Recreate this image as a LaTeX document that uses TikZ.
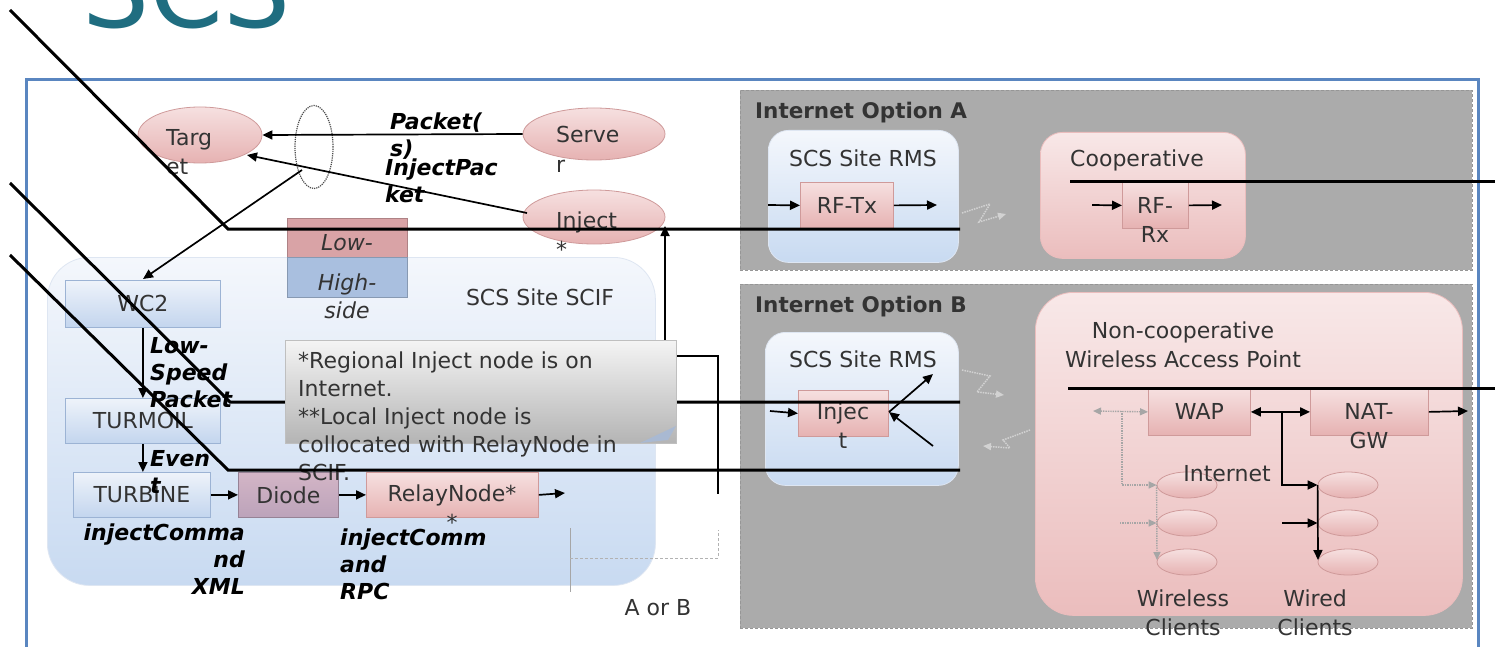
\documentclass[tikz,border=0pt]{standalone}
\usepackage{fontspec}
\setmainfont{DejaVu Sans}
\usetikzlibrary{arrows.meta,shapes.geometric}
\definecolor{titlecol}{HTML}{1F6D80}
\definecolor{frameblue}{HTML}{5A86C0}
\definecolor{graybg}{HTML}{ABABAB}
\definecolor{grayedge}{HTML}{969696}
\definecolor{pinkA}{HTML}{F6E0E0}
\definecolor{pinkB}{HTML}{E6B2B2}
\definecolor{pinkedge}{HTML}{CF9A9A}
\definecolor{blueA}{HTML}{EEF3FA}
\definecolor{blueB}{HTML}{C3D5EE}
\definecolor{blueedge}{HTML}{9CB3D4}
\definecolor{contA}{HTML}{F4F7FC}
\definecolor{contB}{HTML}{C8DAF1}
\definecolor{cpinkA}{HTML}{F8E8E8}
\definecolor{cpinkB}{HTML}{EBBDBD}
\definecolor{diodeA}{HTML}{D3B5C6}
\definecolor{diodeB}{HTML}{BCA3BA}
\definecolor{lowcol}{HTML}{D9A3A6}
\definecolor{highcol}{HTML}{A9BFDF}
\definecolor{noteA}{HTML}{F4F4F4}
\definecolor{noteB}{HTML}{B4B4B4}
\definecolor{foldcol}{HTML}{A9B9D2}
\definecolor{txtcol}{HTML}{333333}
\definecolor{zzcol}{HTML}{D2D2D2}
\newcommand\fsN{\fontsize{22}{29}\selectfont}
\newcommand\fsNote{\fontsize{22}{28}\selectfont}
\newcommand\fsB{\fontsize{22}{27}\selectfont\bfseries\itshape}
\newcommand\fsT{\fontsize{21.5}{24}\selectfont\bfseries}
\tikzset{
  txt/.style={font=\fsN, text=txtcol, inner sep=0pt},
  btxt/.style={font=\fsB, text=black, inner sep=0pt},
  pinkbox/.style={draw=pinkedge, line width=0.8pt, top color=pinkA, bottom color=pinkB, inner sep=0pt, anchor=north west},
  bluebox/.style={draw=blueedge, line width=0.8pt, top color=blueA, bottom color=blueB, inner sep=0pt, anchor=north west},
  pinkell/.style={ellipse, draw=pinkedge, line width=0.8pt, top color=pinkA, bottom color=pinkB, inner sep=0pt},
  bluecont/.style={draw=blueA!80!blueedge, line width=0.8pt, top color=contA, bottom color=contB, inner sep=0pt, anchor=north west},
  pinkcont/.style={draw=cpinkB, line width=0.8pt, top color=cpinkA, bottom color=cpinkB, inner sep=0pt, anchor=north west},
  graycont/.style={draw=grayedge, densely dashed, line width=0.8pt, fill=graybg, inner sep=0pt, anchor=north west},
  arr/.style={line width=1.7pt, -{Triangle[length=10pt,width=9pt]}},
  darr/.style={line width=1.7pt, {Triangle[length=10pt,width=9pt]}-{Triangle[length=10pt,width=9pt]}},
  bline/.style={line width=3pt, black},
  gd/.style={draw=gray!70, densely dotted, line width=1.4pt},
  gdarr/.style={gd, -{Triangle[length=8pt,width=7pt]}},
  zz/.style={draw=zzcol, densely dotted, line width=1.5pt, -{Triangle[length=8pt,width=7pt]}},
}
\begin{document}
\begin{tikzpicture}[x=1pt,y=-1pt]
\useasboundingbox (0,0) rectangle (1495,647);
\fill[white] (0,0) rectangle (1495,647);
% title
\node[anchor=base west, inner sep=0pt, font=\fontsize{106}{106}\selectfont, text=titlecol] (title) at (82,28) {SCS};
% outer frame
\node[draw=frameblue, line width=3pt, fill=white, anchor=north west, minimum width=1452, minimum height=640, inner sep=0pt] (frame) at (25,78) {};
% gray option boxes
\node[graycont, minimum width=732, minimum height=180] (optA) at (740,90) {};
\node[graycont, minimum width=732, minimum height=344] (optB) at (740,284) {};
\node[anchor=base west, font=\fsT, text=txtcol, inner sep=0pt] (optAlbl) at (755,119) {Internet Option A};
\node[anchor=base west, font=\fsT, text=txtcol, inner sep=0pt] (optBlbl) at (755,312) {Internet Option B};
% containers
\node[bluecont, rounded corners=42pt, minimum width=608, minimum height=328] (scif) at (47,257) {};
\node[bluecont, rounded corners=20pt, minimum width=190, minimum height=132] (rmsA) at (768,130) {};
\node[pinkcont, rounded corners=22pt, minimum width=205, minimum height=126] (coop) at (1040,132) {};
\node[bluecont, rounded corners=20pt, minimum width=193, minimum height=153] (rmsB) at (765,332) {};
\node[pinkcont, rounded corners=38pt, minimum width=427, minimum height=323] (noncoop) at (1035,292) {};
\node[txt, anchor=base] (scifT) at (540,305) {SCS Site SCIF};
\node[txt, anchor=base] (rmsAT) at (863,167) {SCS Site RMS};
\node[txt, anchor=base] (coopT) at (1137,167) {Cooperative};
\node[txt, anchor=base] (rmsBT) at (863,367) {SCS Site RMS};
\node[txt, anchor=base, align=center] (noncoopT) at (1183,367) {Non-cooperative\\Wireless Access Point};
% ellipses top-left
\node[pinkell, minimum width=124, minimum height=56] (target) at (200,135) {};
\node[txt, anchor=base west, align=left] (targetT) at (166,175) {Targ\\et};
\node[pinkell, minimum width=142, minimum height=52] (server) at (594,134) {};
\node[txt, anchor=base west, align=left] (serverT) at (556,172) {Serve\\r};
\node[pinkell, minimum width=142, minimum height=54] (inject) at (594,217) {};
\node[txt, anchor=base west, align=left] (injectT) at (556,257) {Inject\\*};
\node[ellipse, draw=black!70, densely dotted, line width=1.2pt, minimum width=38, minimum height=83, inner sep=0pt] (dotell) at (314,147) {};
% labels
\node[btxt, anchor=base west, align=left] (pktlbl) at (390,157) {Packet(\\s)};
\node[btxt, anchor=base west, align=left] (injpktlbl) at (385,202) {InjectPac\\ket};
% arrows top-left
\draw[arr] (server.west) -- (target.east);
\coordinate (injL) at (527,213);
\coordinate (tgtR) at (247,155);
\draw[arr] (injL) -- (tgtR);
\coordinate (dotB) at (302,170);
\coordinate (wc2T) at (143,279);
\draw[arr] (dotB) -- (wc2T);
% legend
\node[draw=lowcol!80!black, fill=lowcol, anchor=north west, minimum width=120, minimum height=39, inner sep=0pt] (low) at (287,218) {};
\node[draw=highcol!80!black, fill=highcol, anchor=north west, minimum width=120, minimum height=40, inner sep=0pt] (high) at (287,257) {};
\node[txt, anchor=base, font=\fsN\itshape] (lowT) at (347,250) {Low-};
\node[txt, anchor=base, align=center, font=\fontsize{22}{28}\selectfont\itshape] (highT) at (347,318) {High-\\side};
% SCIF boxes
\node[bluebox, minimum width=155, minimum height=47] (wc2) at (65,280) {};
\node[txt] at (wc2.center) {WC2};
\node[bluebox, minimum width=155, minimum height=45] (turmoil) at (65,398) {};
\node[txt] at (turmoil.center) {TURMOIL};
\node[bluebox, minimum width=137, minimum height=45] (turbine) at (73,472) {};
\node[txt] at (turbine.center) {TURBINE};
\node[draw=diodeB!80!black, line width=0.8pt, top color=diodeA, bottom color=diodeB, anchor=north west, minimum width=100, minimum height=45, inner sep=0pt] (diode) at (238,472) {};
\node[txt] at (diode.center) {Diode};
\node[pinkbox, minimum width=172, minimum height=45] (relay) at (366,472) {};
\node[txt, anchor=base, align=center] (relayT) at (452,530) {RelayNode*\\*};
\coordinate (relayOut) at (565,493);
\draw[arr] (wc2.south) -- (turmoil.north);
\draw[arr] (turmoil.south) -- (turbine.north -| turmoil.south);
\draw[arr] (turbine.east) -- (diode.west);
\draw[arr] (diode.east) -- (relay.west);
\draw[arr] (relay.east) -- (relayOut);
\node[btxt, anchor=base west, align=left] (lsp) at (150,407) {Low-\\Speed\\Packet};
\node[btxt, anchor=base west, align=left] (evt) at (150,493) {Even\\t};
\node[btxt, anchor=base east, align=right] (icx) at (245,594) {injectComma\\nd\\XML};
\node[btxt, anchor=base west, align=left] (icr) at (340,599) {injectComm\\and\\RPC};
% Option A contents
\node[pinkbox, minimum width=93, minimum height=46] (rftx) at (800,182) {};
\node[txt] at (rftx.center) {RF-Tx};
\coordinate (rftxIn) at (768,205);
\coordinate (rftxOut) at (937,205);
\draw[arr] (rftxIn) -- (rftx.west);
\draw[arr] (rftx.east) -- (rftxOut);
\node[pinkbox, minimum width=66, minimum height=46] (rfrx) at (1122,182) {};
\node[txt, anchor=base, align=center] (rfrxT) at (1155,242) {RF-\\Rx};
\coordinate (rfrxIn) at (1092,205);
\coordinate (rfrxOut) at (1222,205);
\draw[arr] (rfrxIn) -- (rfrx.west);
\draw[arr] (rfrx.east) -- (rfrxOut);
\coordinate (zA1) at (962,213);
\coordinate (zA2) at (1006,214);
\draw[zz] (zA1) -- (990,204) -- (979,222) -- (zA2);
% Option B contents
\node[pinkbox, minimum width=90, minimum height=46] (injbox) at (798,390) {};
\node[txt, anchor=base, align=center] (injboxT) at (843,448) {Injec\\t};
\coordinate (injIn) at (770,411);
\draw[arr] (injIn) -- (injbox.west);
\coordinate (injUp) at (933,374);
\coordinate (injDn) at (933,446);
\coordinate (injR) at (889,412);
\draw[arr] (injR) -- (injUp);
\draw[arr] (injDn) -- (injR);
\coordinate (zB1) at (962,370);
\coordinate (zB2) at (1004,395);
\draw[zz] (zB1) -- (990,376) -- (977,392) -- (zB2);
\coordinate (zC1) at (1030,430);
\coordinate (zC2) at (983,446);
\draw[zz] (zC1) -- (1003,440) -- (1010,448) -- (zC2);
\node[pinkbox, minimum width=102, minimum height=47] (wap) at (1148,388) {};
\node[txt] at (wap.center) {WAP};
\node[pinkbox, minimum width=118, minimum height=47] (nat) at (1310,388) {};
\node[txt, anchor=base, align=center] (natT) at (1369,448) {NAT-\\GW};
\draw[darr] (wap.east) -- (nat.west);
\coordinate (natOut) at (1468,411);
\draw[arr] (nat.east) -- (natOut);
\coordinate (wapL) at (1093,411);
\draw[gd, {Triangle[length=8pt,width=7pt]}-{Triangle[length=8pt,width=7pt]}] (wapL) -- (wap.west);
\foreach \i/\y in {1/485,2/523,3/562}{
  \node[pinkell, minimum width=60, minimum height=26] (wl\i) at (1187,\y) {};
  \node[pinkell, minimum width=60, minimum height=26] (wd\i) at (1348,\y) {};
}
\node[txt, anchor=base] (inetT) at (1227,481) {Internet};
\coordinate (g1) at (1122,411);
\draw[gdarr] (g1) -- (1122,485) -- (wl1.west);
\coordinate (g3) at (1157,560);
\draw[gdarr] (wl1.west) -- (g3);
\coordinate (g2) at (1120,523);
\draw[gdarr] (g2) -- (wl2.west);
\coordinate (k1) at (1282,411);
\draw[arr] (k1) -- (1282,485) -- (wd1.west);
\coordinate (k3) at (1318,560);
\draw[arr] (wd1.west) -- (k3);
\coordinate (k2) at (1282,523);
\draw[arr] (k2) -- (wd2.west);
\node[txt, anchor=base, align=center] (wlT) at (1183,635) {Wireless\\Clients};
\node[txt, anchor=base, align=center] (wdT) at (1315,635) {Wired\\Clients};
% long overlay lines
\coordinate (l1a) at (10,10);
\coordinate (l1b) at (228,229);
\coordinate (l1c) at (960,229);
\draw[bline] (l1a) -- (l1b) -- (l1c);
\coordinate (l2a) at (10,183);
\coordinate (l2b) at (230,402);
\coordinate (l2c) at (960,402);
\draw[bline] (l2a) -- (l2b) -- (l2c);
\coordinate (lAa) at (1070,182);
\coordinate (lAb) at (1495,182);
\draw[bline] (lAa) -- (lAb);
\coordinate (lBa) at (1068,388);
\coordinate (lBb) at (1495,388);
\draw[bline] (lBa) -- (lBb);
% inject up line and right bracket
\coordinate (noteTop) at (665,340);
\coordinate (injBR) at (665,226);
\draw[arr] (noteTop) -- (injBR);
\coordinate (nr1) at (676,356);
\coordinate (nr2) at (718,356);
\coordinate (nr3) at (718,494);
\draw[line width=1.5pt] (nr1) -- (nr2) -- (nr3);
% note box
\node[draw=black!25, line width=0.8pt, top color=noteA, bottom color=noteB, anchor=north west, minimum width=391, minimum height=103, inner sep=0pt] (note) at (285,340) {};
\fill[foldcol] (640,443) -- (676,426) -- (668,440) -- cycle;
\node[txt, anchor=base west, align=left, font=\fsNote] (noteT) at (298,480) {*Regional Inject node is on\\Internet.\\**Local Inject node is\\collocated with RelayNode in\\SCIF.};
% third overlay line
\coordinate (l3a) at (10,255);
\coordinate (l3b) at (228,470);
\coordinate (l3c) at (960,470);
\draw[bline] (l3a) -- (l3b) -- (l3c);
% A or B
\coordinate (ab1) at (570,528);
\coordinate (ab2) at (570,592);
\draw[draw=gray!70, line width=1pt] (ab1) -- (ab2);
\draw[draw=gray!60, densely dashed, line width=1pt] (570,558) -- (718,558) -- (718,530);
\node[txt, anchor=base] (aorb) at (658,615) {A or B};
\end{tikzpicture}
\end{document}
